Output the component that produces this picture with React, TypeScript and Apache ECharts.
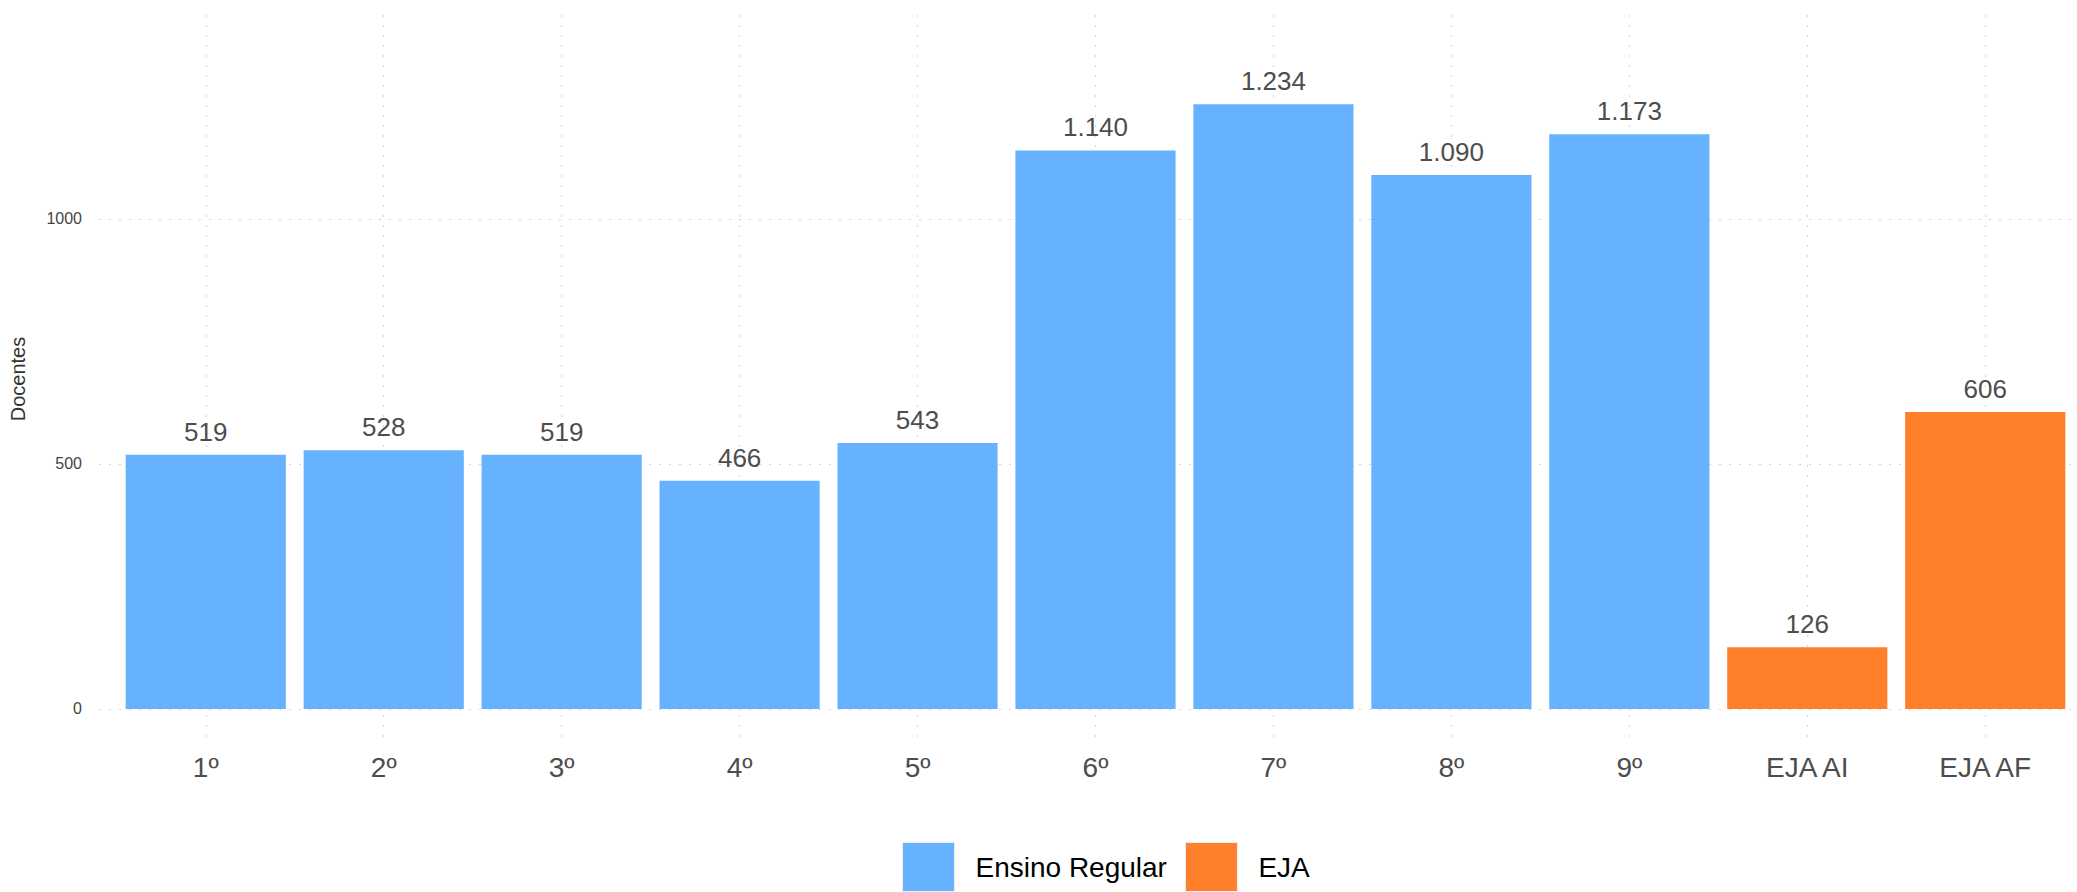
import React, { useEffect, useRef } from 'react';
import * as echarts from 'echarts';

const categories = ['1º', '2º', '3º', '4º', '5º', '6º', '7º', '8º', '9º', 'EJA AI', 'EJA AF'];
const regularName = 'Ensino Regular';
const ejaName = 'EJA';
const regularValues = [519, 528, 519, 466, 543, 1140, 1234, 1090, 1173];
const ejaValues = [126, 606];
const yTicks = [0, 500, 1000];

const FONT = '"Liberation Sans", Arial, Helvetica, sans-serif';

const fmt = (v: number) => String(v).replace(/\B(?=(\d{3})+(?!\d))/g, '.');

export default function App() {
  const ref = useRef<HTMLDivElement>(null);

  useEffect(() => {
    if (!ref.current) return;
    const chart = echarts.init(ref.current, null, { renderer: 'svg' });

    const regularData = regularValues.map((v, i) => [i + 1, v]);
    const ejaData = ejaValues.map((v, i) => [regularValues.length + i + 1, v]);

    const gridLine = { color: '#d4d4d4', width: 1, type: [2, 8] as number[] };

    const labelStyle = {
      show: true,
      position: 'top',
      distance: 10,
      fontSize: 26,
      color: '#4d4d4d',
      fontFamily: FONT,
      formatter: (p: any) => fmt(p.value[1]),
    };

    chart.setOption({
      animation: false,
      backgroundColor: '#ffffff',
      textStyle: { fontFamily: FONT },
      grid: { left: 98.5, right: 8, top: 15, bottom: 149, containLabel: false },
      legend: {
        data: [regularName, ejaName],
        left: 897,
        top: 837,
        orient: 'horizontal',
        itemWidth: 52,
        itemHeight: 49,
        itemGap: 18,
        icon: 'rect',
        itemStyle: { borderColor: '#eeeeee', borderWidth: 1 },
        textStyle: { fontSize: 28, color: '#000000', fontFamily: FONT, padding: [0, 0, 0, 16] },
        selectedMode: false,
      },
      xAxis: {
        type: 'value',
        min: 0.4,
        max: 11.6,
        minInterval: 1,
        maxInterval: 1,
        axisLine: { show: false },
        axisTick: { show: false },
        axisLabel: {
          show: true,
          margin: 10,
          fontSize: 28,
          color: '#4d4d4d',
          fontFamily: FONT,
          showMinLabel: false,
          showMaxLabel: false,
          formatter: (v: number) => (Number.isInteger(v) && v >= 1 && v <= categories.length ? categories[v - 1] : ''),
        },
        splitLine: { show: true, showMinLine: false, showMaxLine: false, lineStyle: gridLine },
      },
      yAxis: {
        type: 'value',
        min: -69.4,
        max: 1416.3,
        minInterval: 500,
        maxInterval: 500,
        name: 'Docentes',
        nameLocation: 'middle',
        nameRotate: 90,
        nameGap: 71,
        nameTextStyle: { fontSize: 20, color: '#333333', fontFamily: FONT },
        axisLine: { show: false },
        axisTick: { show: false },
        axisLabel: {
          show: true,
          margin: 17,
          fontSize: 16,
          color: '#444444',
          fontFamily: FONT,
          showMinLabel: false,
          showMaxLabel: false,
          formatter: (v: number) => (yTicks.includes(v) ? String(v) : ''),
        },
        splitLine: { show: true, showMinLine: false, showMaxLine: false, lineStyle: gridLine },
      },
      series: [
        {
          name: regularName,
          type: 'bar',
          data: regularData,
          barWidth: '90%',
          barGap: '-100%',
          itemStyle: { color: '#66B2FF' },
          label: labelStyle,
        },
        {
          name: ejaName,
          type: 'bar',
          data: ejaData,
          barWidth: '90%',
          barGap: '-100%',
          itemStyle: { color: '#FF7F2A' },
          label: labelStyle,
        },
      ],
    });

    return () => chart.dispose();
  }, []);

  return (
    <div style={{ position: 'absolute', left: 0, top: 0, width: 2077, height: 892, overflow: 'hidden' }}>
      <div ref={ref} style={{ width: 2100, height: 892 }} />
    </div>
  );
}
